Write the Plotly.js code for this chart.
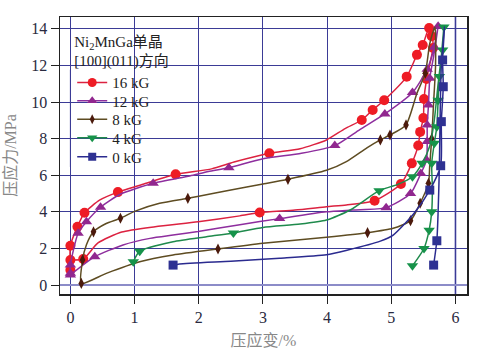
<!DOCTYPE html>
<html><head><meta charset="utf-8">
<script src="https://cdn.plot.ly/plotly-3.0.1.min.js"></script>
<style>html,body{margin:0;padding:0;background:#fff}#plot{width:477px;height:353px}</style>
</head><body><div id="plot"></div>
<script>
const seriesNames = ['16 kG', '12 kG', '8 kG', '4 kG', '0 kG'];
const xTicks = [0, 1, 2, 3, 4, 5, 6];
const yTicks = [0, 2, 4, 6, 8, 10, 12, 14];

// 16 kG
const kG16_lineX = [0, 0, 0.11, 0.22, 0.46, 0.74, 1.18, 1.64, 2.2, 2.55, 3.1, 3.58, 3.99, 4.28, 4.54, 4.71, 4.89, 5.24, 5.4, 5.49, 5.59, 5.63, 5.65, 5.55, 5.51, 5.5, 5.45, 5.42, 5.32, 5.15, 4.74, 4.3, 3.99, 3.5, 2.95, 2.64, 1.99, 1.32, 0.8, 0.43, 0.2, 0];
const kG16_lineY = [0.82, 2.15, 3.19, 3.95, 4.65, 5.08, 5.56, 6.05, 6.35, 6.72, 7.2, 7.45, 7.93, 8.55, 9.02, 9.57, 10.1, 11.39, 12.58, 13.12, 14.05, 13.9, 12.96, 11.26, 10.17, 9.13, 8.37, 7.63, 6.65, 5.52, 4.61, 4.38, 4.28, 4.1, 3.96, 3.78, 3.46, 3.19, 2.9, 2.3, 1.42, 1.37];
const kG16_markX = [0, 0, 0.11, 0.22, 0.74, 1.64, 3.1, 4.54, 4.71, 4.89, 5.24, 5.4, 5.49, 5.59, 5.63, 5.65, 5.55, 5.51, 5.5, 5.45, 5.42, 5.32, 5.15, 4.74, 2.95, 0.2, 0];
const kG16_markY = [0.82, 2.15, 3.19, 3.95, 5.08, 6.05, 7.2, 9.02, 9.57, 10.1, 11.39, 12.58, 13.12, 14.05, 13.6, 12.96, 11.26, 10.17, 9.13, 8.37, 7.63, 6.65, 5.52, 4.61, 3.96, 1.42, 1.37];

// 12 kG
const kG12_lineX = [0, 0, 0.12, 0.25, 0.47, 0.77, 1.29, 1.86, 2.15, 2.47, 3.0, 3.6, 4.12, 4.51, 4.9, 5.33, 5.56, 5.67, 5.73, 5.66, 5.6, 5.58, 5.56, 5.56, 5.55, 5.46, 5.3, 4.92, 4.4, 3.99, 3.26, 2.64, 1.99, 1.6, 1.24, 0.82, 0.38, 0];
const kG12_lineY = [0.64, 1.1, 2.83, 3.46, 4.25, 4.95, 5.56, 5.96, 6.2, 6.41, 6.9, 7.2, 7.62, 8.5, 9.35, 10.52, 11.8, 13.0, 14.15, 12.5, 11.3, 9.84, 8.75, 7.84, 6.83, 6.09, 5.0, 4.23, 4.1, 4.0, 3.63, 3.3, 2.92, 2.73, 2.55, 2.19, 1.55, 0.55];
const kG12_markX = [0, 0, 0.12, 0.25, 0.47, 1.29, 2.47, 4.12, 4.9, 5.33, 5.56, 5.67, 5.73, 5.6, 5.58, 5.56, 5.56, 5.55, 5.46, 5.3, 4.92, 3.26, 0.38, 0];
const kG12_markY = [0.64, 1.1, 2.83, 3.46, 4.25, 5.56, 6.41, 7.62, 9.35, 10.52, 11.8, 13.0, 14.15, 11.3, 9.84, 8.75, 7.84, 6.83, 6.09, 5.0, 4.23, 3.63, 1.55, 0.55];

// 8 kG
const kG8_lineX = [0.17, 0.19, 0.25, 0.36, 0.55, 0.78, 1.01, 1.39, 1.83, 2.0, 2.5, 3.0, 3.39, 3.99, 4.3, 4.62, 4.83, 4.98, 5.23, 5.4, 5.53, 5.6, 5.68, 5.69, 5.66, 5.63, 5.6, 5.58, 5.45, 5.3, 5.03, 4.63, 3.99, 3.0, 2.3, 1.6, 1.08, 0.56, 0.17];
const kG8_lineY = [0.09, 1.37, 2.2, 2.91, 3.35, 3.65, 4.04, 4.47, 4.74, 4.85, 5.2, 5.52, 5.78, 6.27, 6.75, 7.5, 7.93, 8.2, 8.75, 10.48, 11.58, 13.2, 14.1, 12.0, 10.0, 8.0, 6.6, 5.56, 4.47, 3.52, 3.1, 2.86, 2.61, 2.28, 1.97, 1.64, 1.27, 0.64, 0.09];
const kG8_markX = [0.17, 0.19, 0.36, 0.78, 1.83, 3.39, 4.83, 4.98, 5.23, 5.53, 5.63, 5.58, 5.45, 5.3, 4.63, 2.3];
const kG8_markY = [0.09, 1.37, 2.91, 3.65, 4.74, 5.78, 7.93, 8.2, 8.75, 11.58, 8.0, 5.56, 4.47, 3.52, 2.86, 1.97];

// 4 kG
const kG4_lineX = [0.98, 1.08, 1.6, 2.12, 2.54, 3.0, 3.58, 3.99, 4.36, 4.81, 5.1, 5.33, 5.48, 5.6, 5.67, 5.73, 5.78, 5.82, 5.8, 5.75, 5.73, 5.71, 5.67, 5.63, 5.64, 5.63, 5.59, 5.51, 5.33];
const kG4_lineY = [1.27, 1.85, 2.37, 2.64, 2.85, 3.15, 3.33, 3.55, 4.1, 5.16, 5.5, 5.92, 6.65, 7.6, 9.0, 11.0, 12.5, 14.1, 12.85, 11.4, 10.1, 8.65, 7.75, 6.65, 5.3, 4.0, 3.0, 2.0, 1.05];
const kG4_markX = [0.98, 1.08, 2.54, 4.81, 5.33, 5.48, 5.82, 5.8, 5.75, 5.73, 5.71, 5.67, 5.63, 5.63, 5.59, 5.51, 5.33];
const kG4_markY = [1.27, 1.85, 2.85, 5.16, 5.92, 6.65, 14.1, 12.85, 11.4, 10.1, 8.65, 7.75, 6.65, 4.0, 3.0, 2.0, 1.05];

// 0 kG
const kG0_lineX = [1.6, 1.7, 2.5, 3.26, 3.99, 4.31, 4.83, 5.03, 5.35, 5.6, 5.77, 5.78, 5.81, 5.8, 5.83, 5.78, 5.76, 5.75, 5.73, 5.71, 5.66];
const kG0_lineY = [1.09, 1.15, 1.3, 1.46, 1.65, 1.9, 2.4, 2.73, 3.9, 5.19, 6.52, 8.93, 10.84, 12.3, 14.1, 12.0, 9.0, 6.5, 4.0, 2.42, 1.09];
const kG0_markX = [1.6, 5.6, 5.77, 5.78, 5.81, 5.8, 5.71, 5.66];
const kG0_markY = [1.09, 5.19, 6.52, 8.93, 10.84, 12.3, 2.42, 1.09];

const lineColors = ['#dc2240', '#8e2e9e', '#5e4c22', '#1f8a4c', '#2b2b8f'];
const markColors = ['#ee1c25', '#91278f', '#4b1a0c', '#16934a', '#2e3192'];
const symbols = ['circle', 'triangle-up', 'diamond-tall', 'triangle-down', 'square'];
const msizes = [10, 10, 8, 10, 9];

const lines = [[kG16_lineX, kG16_lineY], [kG12_lineX, kG12_lineY], [kG8_lineX, kG8_lineY], [kG4_lineX, kG4_lineY], [kG0_lineX, kG0_lineY]];
const marks = [[kG16_markX, kG16_markY], [kG12_markX, kG12_markY], [kG8_markX, kG8_markY], [kG4_markX, kG4_markY], [kG0_markX, kG0_markY]];

const serif = "'Liberation Serif', 'Noto Sans CJK SC'";
const legendIds = ['legend', 'legend2', 'legend3', 'legend4', 'legend5'];
const traces = [];
for (let i = 0; i < 5; i++) {
  traces.push({x: lines[i][0], y: lines[i][1], type: 'scatter', mode: 'lines',
    line: {color: lineColors[i], width: 1.5, shape: 'spline', smoothing: 0.6},
    showlegend: false, hoverinfo: 'skip'});
  traces.push({x: marks[i][0], y: marks[i][1], type: 'scatter', mode: 'markers',
    marker: {color: markColors[i], symbol: symbols[i], size: msizes[i]},
    showlegend: false});
}
for (let i = 0; i < 5; i++) {
  traces.push({x: [null], y: [null], type: 'scatter', mode: 'lines+markers', name: seriesNames[i],
    legend: legendIds[i], showlegend: true,
    line: {color: lineColors[i], width: 1.5},
    marker: {color: markColors[i], symbol: symbols[i], size: msizes[i] - 1}});
}

const axisCommon = {
  showgrid: true, gridcolor: '#3b3b96', gridwidth: 1,
  showline: true, mirror: true, linecolor: '#222', linewidth: 1.5,
  ticks: 'outside', ticklen: 8, tickcolor: '#222', tickwidth: 1,
  tickfont: {family: serif, size: 16, color: '#2a2a40'}
};

const legendFont = {family: serif, size: 15, color: '#222'};
const entryCenters = [0.6968, 0.630, 0.5632, 0.4946];

const layout = {
  width: 477, height: 353,
  margin: {l: 60, r: 10, t: 17, b: 59},
  paper_bgcolor: '#fff', plot_bgcolor: '#fff',
  showlegend: true,
  xaxis: Object.assign({}, axisCommon, {
    range: [-0.162, 6.18], tickvals: xTicks, zeroline: false,
    title: {text: '压应变/%', font: {family: serif, size: 16, color: '#888'}, standoff: 10}
  }),
  yaxis: Object.assign({}, axisCommon, {
    range: [-0.49, 14.65], tickvals: yTicks, zeroline: true, zerolinecolor: '#8c8cc8', zerolinewidth: 2,
    title: {text: '压应力/MPa', font: {family: serif, size: 16, color: '#888'}, standoff: 10}
  }),
  shapes: [
    {type: 'line', xref: 'x', yref: 'paper', x0: 6, x1: 6, y0: 0, y1: 1,
      line: {color: '#8c8cc8', width: 2}, layer: 'between'},
    {type: 'rect', xref: 'paper', yref: 'paper', x0: 0.0172, x1: 0.312, y0: 0.4585, y1: 0.953,
      fillcolor: '#fff', line: {width: 0}, layer: 'between'},
    {type: 'line', xref: 'x', yref: 'paper', x0: 0, x1: 0, y0: 0.4585, y1: 0.81,
      line: {color: '#3b3b96', width: 1}, layer: 'between'}
  ],
  legend: {
    x: 0.03, y: 0.963, xanchor: 'left', yanchor: 'top',
    bgcolor: 'rgba(0,0,0,0)', borderwidth: 0, itemwidth: 30,
    font: legendFont,
    title: {text: 'Ni<sub>2</sub>MnGa单晶<br>[100](011)方向', font: legendFont}
  }
};
for (let k = 1; k < 5; k++) {
  layout[legendIds[k]] = {
    x: 0.03, y: entryCenters[k - 1], xanchor: 'left', yanchor: 'middle',
    bgcolor: 'rgba(0,0,0,0)', borderwidth: 0, itemwidth: 30, font: legendFont
  };
}

Plotly.newPlot('plot', traces, layout, {displayModeBar: false, staticPlot: true});
</script>
</body></html>
